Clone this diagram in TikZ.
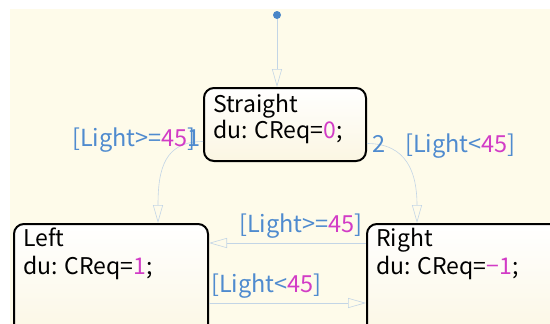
\documentclass[tikz,border=0pt]{standalone}
\usepackage{fontspec}
\setmainfont{Noto Sans CJK JP}
\usetikzlibrary{arrows.meta,calc}
\definecolor{canvas}{HTML}{FEFBEA}
\definecolor{trans}{HTML}{C3D5E6}
\definecolor{lblue}{HTML}{4F8BCF}
\definecolor{lmag}{HTML}{D23CC6}
\definecolor{dotblue}{HTML}{4A86C8}
\definecolor{statebot}{HTML}{FBF6E2}
\tikzset{
  statebox/.style={draw=black, line width=2pt, rounded corners=10pt,
    top color=white, bottom color=statebot, inner sep=0pt, anchor=north west},
  statetext/.style={anchor=base west, inner sep=0pt, font=\fontsize{23}{27}\selectfont, text=black},
  guard/.style={anchor=base west, inner sep=0pt, font=\fontsize{23.5}{27}\selectfont, text=lblue},
  trarrow/.style={draw=trans, line width=0.6pt,
    -{Triangle[open, length=18pt, width=10pt, line width=0.6pt]}},
}
\newcommand{\num}[1]{\textcolor{lmag}{#1}}
\begin{document}
\begin{tikzpicture}[x=1pt, y=-1pt]
\useasboundingbox (0,0) rectangle (550,324);
\clip (0,0) rectangle (550,324);
\fill[canvas] (10,9) rectangle (550,324);

% states
\node[statebox, minimum width=162pt, minimum height=73pt] (straight) at (203,87) {};
\node[statebox, minimum width=194pt, minimum height=120pt] (left) at (13,223) {};
\node[statebox, minimum width=200pt, minimum height=120pt] (right) at (366,223) {};

\node[statetext] (straightname) at (213,112) {Straight};
\node[statetext] (straightdu) at (213,138) {du: CReq=\num{0};};
\node[statetext] (leftname) at (23,246) {Left};
\node[statetext] (leftdu) at (23,274) {du: CReq=\num{1};};
\node[statetext] (rightname) at (376,246) {Right};
\node[statetext] (rightdu) at (376,274) {du: CReq=\num{−1};};

% default transition
\fill[dotblue] (277,15) circle (4pt);
\coordinate (init) at (277,19);
\draw[trarrow] (init) -- (straight.north -| init);

% Straight -> Left
\coordinate (sl0) at ($(straight.west)+(0,17)$);
\coordinate (sl1) at ($(left.north)+(47,0)$);
\draw[trarrow] (sl0) .. controls ($(sl0)+(-38,0)$) and ($(sl1)+(0,-55)$) .. (sl1);

% Straight -> Right
\coordinate (sr0) at ($(straight.east)+(0,19)$);
\coordinate (sr1) at ($(right.north)+(-50,0)$);
\draw[trarrow] (sr0) .. controls ($(sr0)+(40,0)$) and ($(sr1)+(0,-50)$) .. (sr1);

% Right -> Left and Left -> Right
\coordinate (rl0) at ($(right.north west)+(0,20)$);
\coordinate (rl1) at ($(left.north east)+(0,20)$);
\draw[trarrow] (rl0) -- (rl1);
\coordinate (lr0) at ($(left.north east)+(0,80)$);
\coordinate (lr1) at ($(right.north west)+(0,80)$);
\draw[trarrow] (lr0) -- (lr1);

% guards and priorities
\node[guard] (g1) at (72,146) {[Light>=\num{45}]};
\node[guard] (p1) at (187,146) {1};
\node[guard] (p2) at (372,152) {2};
\node[guard] (g2) at (405,152) {[Light<\num{45}]};
\node[guard] (g3) at (239,232) {[Light>=\num{45}]};
\node[guard] (g4) at (211,292) {[Light<\num{45}]};
\end{tikzpicture}
\end{document}
